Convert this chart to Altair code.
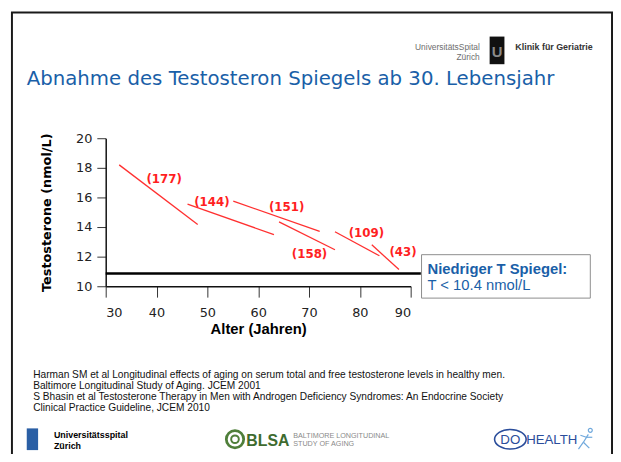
import altair as alt
import pandas as pd

# ---- data ----
labels = ["(177)", "(144)", "(151)", "(158)", "(109)", "(43)"]
age_start = [32.65, 46.1, 55.1, 64.1, 75.1, 82.35]
t_start = [18.2, 15.55, 15.75, 14.35, 13.68, 12.8]
age_end = [48.1, 63.1, 72.1, 75.1, 83.85, 87.7]
t_end = [14.17, 13.49, 13.71, 12.47, 12.06, 11.13]
label_age = [41.5, 50.9, 65.6, 70.1, 81.3, 88.5]
label_t = [17.27, 15.72, 15.33, 12.15, 13.61, 12.28]
threshold_t = [10.86]
threshold_from = [30]
threshold_to = [92]
x_ticks = [30, 40, 50, 60, 70, 80, 90]
y_ticks = [10, 12, 14, 16, 18, 20]

seg_df = pd.DataFrame({"a0": age_start, "t0": t_start, "a1": age_end, "t1": t_end})
lab_df = pd.DataFrame({"age": label_age, "t": label_t, "n": labels})
thr_df = pd.DataFrame({"a0": threshold_from, "a1": threshold_to, "t": threshold_t})

# ---- page geometry (plot origin on page) ----
OX, OY = 107, 137
W, H = 309, 150
BLUE = "#1a5fa8"
RED = "#ff1f1f"


def X(px):
    return px - OX


def Y(py):
    return py - OY


one = alt.Data(values=[{"k": 0}])


def text_mark(s, x, y, size, color="#111", font="Liberation Sans", weight="normal",
              align="left", baseline="alphabetic"):
    return alt.Chart(one).mark_text(
        text=s, fontSize=size, color=color, font=font, fontWeight=weight,
        align=align, baseline=baseline
    ).encode(x=alt.value(X(x)), y=alt.value(Y(y)))


def line_mark(x1, y1, x2, y2, color, width):
    return alt.Chart(one).mark_rule(color=color, strokeWidth=width).encode(
        x=alt.value(X(x1)), x2=alt.value(X(x2)), y=alt.value(Y(y1)), y2=alt.value(Y(y2)))


def rect_mark(x1, y1, x2, y2, fill, stroke=None, sw=1):
    kw = {"fill": fill}
    if stroke:
        kw.update(stroke=stroke, strokeWidth=sw)
    return alt.Chart(one).mark_rect(**kw).encode(
        x=alt.value(X(x1)), x2=alt.value(X(x2)), y=alt.value(Y(y1)), y2=alt.value(Y(y2)))


def symbol_mark(x, y, size, color, sw, shape="circle"):
    return alt.Chart(one).mark_point(shape=shape, size=size, filled=False, stroke=color,
                                     strokeWidth=sw, opacity=1).encode(
        x=alt.value(X(x)), y=alt.value(Y(y)))


xscale = alt.Scale(domain=[30, 90], nice=False, zero=False)
yscale = alt.Scale(domain=[10, 20], nice=False, zero=False)

xaxis = alt.Axis(values=x_ticks, title="Alter (Jahren)", titleFont="Liberation Sans",
                 titleFontSize=15, titleFontWeight="bold", titleColor="black",
                 labelFont="DejaVu Sans", labelFontSize=13, labelColor="#222",
                 tickSize=11, tickColor="#333", domainColor="#111", domainWidth=1.5,
                 labelPadding=10, titlePadding=2, grid=False, labelOverlap=False)
yaxis = alt.Axis(values=y_ticks, title="Testosterone (nmol/L)", titleFont="DejaVu Sans",
                 titleFontSize=13, titleFontWeight="bold", titleColor="black",
                 labelFont="DejaVu Sans", labelFontSize=13, labelColor="#222",
                 tickSize=9, tickColor="#333", domainColor="#111", domainWidth=1.5,
                 labelPadding=5, titlePadding=22, grid=False, labelOverlap=False)

segments = alt.Chart(seg_df).mark_rule(color="#ff3030", strokeWidth=1.3).encode(
    x=alt.X("a0:Q", scale=xscale, axis=xaxis),
    y=alt.Y("t0:Q", scale=yscale, axis=yaxis),
    x2="a1:Q", y2="t1:Q")

seg_labels = alt.Chart(lab_df).mark_text(
    font="DejaVu Sans", fontSize=12, fontWeight="bold", color=RED, baseline="middle"
).encode(x=alt.X("age:Q", scale=xscale, axis=xaxis),
         y=alt.Y("t:Q", scale=yscale, axis=yaxis), text="n:N")

threshold = alt.Chart(thr_df).mark_rule(color="black", strokeWidth=2.5).encode(
    x=alt.X("a0:Q", scale=xscale, axis=xaxis), x2="a1:Q",
    y=alt.Y("t:Q", scale=yscale, axis=yaxis))

FIG = "#6fa8dc"
deco = [
    # slide frame
    line_mark(12, 9.5, 12, 480, "#1a1a1a", 2),
    line_mark(11, 9.5, 621, 9.5, "#1a1a1a", 2),
    line_mark(620, 9.5, 620, 480, "#1a1a1a", 2),
    # header
    text_mark("UniversitätsSpital", 486, 47.5, 8.5, "#6e6e6e", align="right"),
    text_mark("Zürich", 486, 58, 8.5, "#6e6e6e", align="right"),
    rect_mark(496, 34, 511, 62, "#111"),
    text_mark("U", 503.5, 55, 15, "#8a8a8a", weight="bold", align="center"),
    text_mark("Klinik für Geriatrie", 522, 47.5, 9, "#333", weight="bold"),
    # title
    text_mark("Abnahme des Testosteron Spiegels ab 30. Lebensjahr", 27, 83, 20, BLUE,
              font="DejaVu Sans"),
    # info box
    rect_mark(427, 255, 598, 299, "white", "#8c8c8c", 1),
    text_mark("Niedriger T Spiegel:", 433, 274.3, 15, BLUE, weight="bold"),
    text_mark("T < 10.4 nmol/L", 433, 290.7, 15, BLUE),
    # references
    text_mark("Harman SM et al Longitudinal effects of aging on serum total and free testosterone levels in healthy men.",
              33.5, 380, 10.3, "#111"),
    text_mark("Baltimore Longitudinal Study of Aging. JCEM 2001", 33.5, 391, 10.3, "#111"),
    text_mark("S Bhasin et al Testosterone Therapy in Men with Androgen Deficiency Syndromes: An Endocrine Society",
              33.5, 402, 10.3, "#111"),
    text_mark("Clinical Practice Guideline, JCEM 2010", 33.5, 413, 10.3, "#111"),
    # footer logos
    rect_mark(27, 431, 38.5, 453, "#2a5fa5"),
    text_mark("Universitätsspital", 54.5, 440.5, 9, "#000", weight="bold"),
    text_mark("Zürich", 54.5, 451.5, 9, "#000", weight="bold"),
    symbol_mark(238, 442, 310, "#4f7f3a", 2.8),
    symbol_mark(238, 442, 60, "#4f7f3a", 2),
    text_mark("BLSA", 249.5, 448.5, 16, "#3e6b2f", weight="bold"),
    text_mark("BALTIMORE LONGITUDINAL", 297, 440.5, 7.3, "#8a8a8a"),
    text_mark("STUDY OF AGING", 297, 449, 7.3, "#8a8a8a"),
    symbol_mark(517, 442, 1024, "#2a4d9b", 1.6,
                shape="M-1,0 A1,0.62 0 1,1 1,0 A1,0.62 0 1,1 -1,0"),
    text_mark("DO", 517, 447, 13.5, "#2a4d9b", align="center"),
    text_mark("HEALTH", 533, 447, 13.4, "#2a4d9b"),
    # running figure
    symbol_mark(598, 433, 16, FIG, 1.2),
    line_mark(596, 437, 591, 445, FIG, 1.2),
    line_mark(591, 445, 597, 451, FIG, 1.2),
    line_mark(591, 445, 586, 452, FIG, 1.2),
    line_mark(594, 440, 600, 440, FIG, 1.2),
    line_mark(594, 440, 588, 438, FIG, 1.2),
]

chart = alt.layer(deco[0], deco[1], deco[2], *deco[3:9], segments, threshold, seg_labels,
                  *deco[9:]).properties(
    width=W, height=H,
    autosize=alt.AutoSizeParams(type="none"),
    padding={"left": OX - 8, "top": OY - 8, "right": 613 - (OX - 8) - W,
             "bottom": 446 - (OY - 8) - H},
    background="white",
).configure_view(stroke=None).configure_axis(labelOverlap=False)

chart.save("out.html", embed_options={"renderer": "svg", "actions": False})
